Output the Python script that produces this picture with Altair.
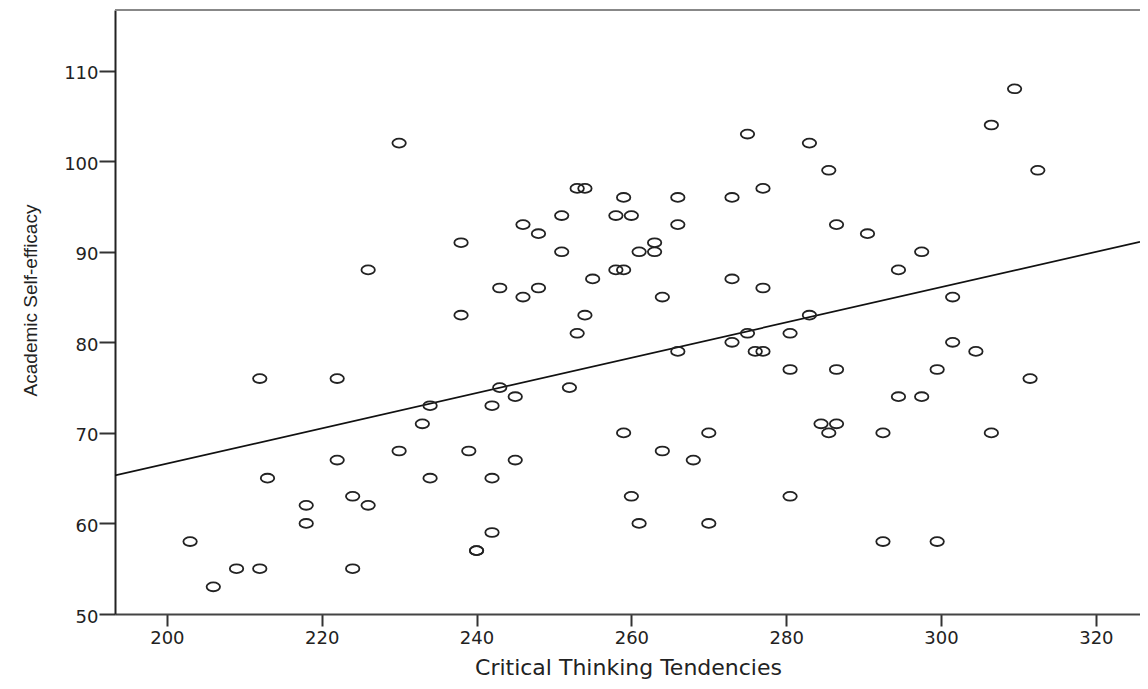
import altair as alt
import pandas as pd

# Critical Thinking Tendencies (x) and Academic Self-efficacy (y)
ctt = [203, 206, 209, 212, 212, 213, 218, 218, 222, 222, 224, 224, 226, 226,
       230, 230, 233, 234, 234, 238, 238, 239, 240, 240, 242, 242, 242, 243,
       243, 245, 245, 246, 246, 248, 248, 251, 251, 252, 253, 254, 253, 254,
       255, 258, 258, 259, 259, 259, 260, 260, 261, 261, 263, 263, 264, 264,
       266, 266, 266, 268, 270, 270, 273, 273, 273, 275, 275, 276, 277, 277,
       277, 280.5, 280.5, 280.5, 283, 283, 284.5, 285.5, 285.5, 286.5, 286.5,
       286.5, 290.5, 292.5, 292.5, 294.5, 294.5, 297.5, 297.5, 299.5, 299.5,
       301.5, 301.5, 304.5, 306.5, 306.5, 309.5, 311.5, 312.5]
ase = [58, 53, 55, 55, 76, 65, 62, 60, 76, 67, 63, 55, 88, 62,
       102, 68, 71, 73, 65, 91, 83, 68, 57, 57, 73, 65, 59, 86,
       75, 74, 67, 93, 85, 92, 86, 94, 90, 75, 97, 97, 81, 83,
       87, 94, 88, 96, 88, 70, 94, 63, 90, 60, 91, 90, 85, 68,
       96, 93, 79, 67, 70, 60, 96, 87, 80, 103, 81, 79, 79, 97,
       86, 81, 77, 63, 102, 83, 71, 99, 70, 93, 77,
       71, 92, 70, 58, 88, 74, 90, 74, 77, 58,
       85, 80, 79, 104, 70, 108, 76, 99]

# fitted line end points
fit_x = [193.3, 325.7]
fit_y = [65.3, 91.1]

x_ticks = [200, 220, 240, 260, 280, 300, 320]
y_ticks = [50, 60, 70, 80, 90, 100, 110]

pts = pd.DataFrame({"x": ctt, "y": ase})
fit = pd.DataFrame({"x": fit_x, "y": fit_y})

W, H = 1025, 604
xs = alt.Scale(domain=[193.3, 325.7], nice=False, zero=False)
ys = alt.Scale(domain=[50, 116.7], nice=False, zero=False)

x_axis = alt.Axis(values=x_ticks, grid=False, tickSize=12, tickWidth=2,
                  tickColor="#333", domainColor="#444", domainWidth=2,
                  labelFont="DejaVu Sans", labelFontSize=18, labelColor="#222",
                  labelPadding=3, title="Critical Thinking Tendencies",
                  titleFont="DejaVu Sans", titleFontSize=22, titleFontWeight="normal",
                  titleColor="#222", titleX=513, titleY=60,
                  titleBaseline="alphabetic", titleAlign="center")
y_axis = alt.Axis(values=y_ticks, grid=False, tickSize=16, tickWidth=2,
                  tickColor="#333", domainColor="#222", domainWidth=2,
                  labelFont="DejaVu Sans", labelFontSize=18, labelColor="#222",
                  labelPadding=1, labelOffset=3, title="Academic Self-efficacy",
                  titleFont="Liberation Sans", titleFontSize=19, titleFontWeight="normal",
                  titleColor="#222", titleX=-79, titleY=290, titleAngle=-90,
                  titleBaseline="alphabetic", titleAlign="center")

ellipse = "M-1,0A1,0.66,0,1,1,1,0A1,0.66,0,1,1,-1,0Z"

points = alt.Chart(pts).mark_point(
    shape=ellipse, size=180, filled=False, stroke="#222", strokeWidth=1.8, opacity=1
).encode(
    x=alt.X("x:Q", scale=xs, axis=x_axis),
    y=alt.Y("y:Q", scale=ys, axis=y_axis),
)

line = alt.Chart(fit).mark_line(color="#111", strokeWidth=1.7, clip=True).encode(
    x=alt.X("x:Q", scale=xs),
    y=alt.Y("y:Q", scale=ys),
)

top = alt.Chart(pd.DataFrame({"a": [0]})).mark_rule(color="#888", strokeWidth=2).encode(
    x=alt.value(0), x2=alt.value(W), y=alt.value(0)
)

chart = alt.layer(top, line, points).properties(
    width=W, height=H,
    autosize=alt.AutoSizeParams(type="none"),
    padding={"left": 107, "top": 2, "right": 0, "bottom": 67},
    background="white",
).configure_view(stroke=None)

chart.save("out.html", embed_options={"renderer": "svg", "actions": False})
